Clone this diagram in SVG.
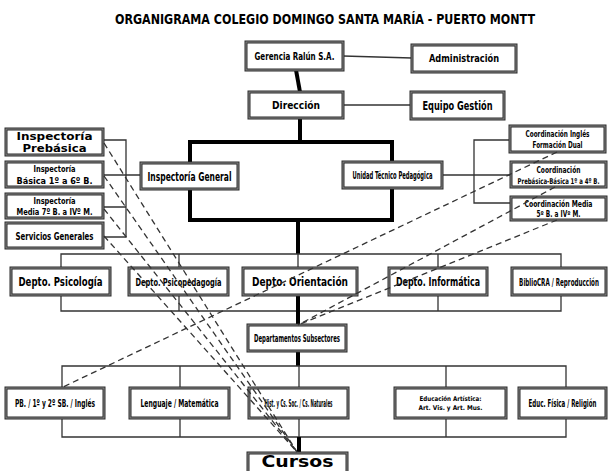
<svg xmlns="http://www.w3.org/2000/svg" width="613" height="471" viewBox="0 0 613 471">
<style>
.b{fill:#fff;stroke:#2a2a2a;stroke-width:3}
.bi{fill:none;stroke:#8a8a8a;stroke-width:1}
.t{font-family:"DejaVu Sans Condensed","DejaVu Sans","Liberation Sans",sans-serif;font-weight:bold;fill:#000;text-anchor:middle}
.w{font-family:"DejaVu Sans","Liberation Sans",sans-serif;font-weight:bold;fill:#000;text-anchor:middle}
.thin{fill:none;stroke:#333;stroke-width:1.3}
.thick{fill:none;stroke:#000;stroke-width:4}
.dash{fill:none;stroke:#333;stroke-width:1.3;stroke-dasharray:6 4}
</style>
<rect width="613" height="471" fill="#fff"/>
<text x="325" y="24" class="t" font-size="14" textLength="420" lengthAdjust="spacingAndGlyphs">ORGANIGRAMA COLEGIO DOMINGO SANTA MARÍA - PUERTO MONTT</text>

<g id="connectors">
<path class="thin" d="M343,56 L412,58"/>
<path class="thin" d="M343,105 H411"/>
<path class="thick" d="M296,70 L300,92"/>
<path class="thick" d="M300,118 V142 M190,142 H392 V220 H190 Z M298,220 V254"/>
<path class="thin" d="M442,175 H511 M511,140 H474 V203 H511"/>
<path class="thin" d="M103,140 H126 V237 H103 M103,175 H141 M103,207 H126"/>
<path class="thin" d="M61,268 V254 H561 V268 M179,254 V268 M438,254 V268 M298,254 V268"/>
<path class="thin" d="M61,295 V311 H561 V295 M179,295 V311 M438,295 V311"/>
<path class="thick" d="M298,295 V325 M298,351 V366"/>
<path class="thin" d="M62,388 V366 H566 V388 M180,366 V388 M299,366 V388 M446,366 V388"/>
<path class="thin" d="M62,418 V437 H566 V418 M180,418 V437 M299,418 V437 M446,418 V437"/>
<path class="thick" d="M299,437 V453"/>
</g>

<g id="n-gerencia"><rect class="b" x="246" y="42" width="97" height="28"/><rect class="bi" x="246" y="42" width="97" height="28"/><text class="t" x="294.5" y="60" font-size="11" textLength="80" lengthAdjust="spacingAndGlyphs">Gerencia Ralún S.A.</text></g>
<g id="n-administracion"><rect class="b" x="412" y="45" width="104" height="27"/><rect class="bi" x="412" y="45" width="104" height="27"/><text class="t" x="464" y="62" font-size="11" textLength="70" lengthAdjust="spacingAndGlyphs">Administración</text></g>
<g id="n-direccion"><rect class="b" x="249" y="92" width="94" height="26"/><rect class="bi" x="249" y="92" width="94" height="26"/><text class="t" x="296" y="109" font-size="11" textLength="48" lengthAdjust="spacingAndGlyphs">Dirección</text></g>
<g id="n-equipo"><rect class="b" x="411" y="92" width="93" height="27"/><rect class="bi" x="411" y="92" width="93" height="27"/><text class="t" x="457.5" y="110" font-size="12" textLength="70" lengthAdjust="spacingAndGlyphs">Equipo Gestión</text></g>
<g id="n-insp-general"><rect class="b" x="141" y="163" width="97" height="26"/><rect class="bi" x="141" y="163" width="97" height="26"/><text class="t" x="189.5" y="181" font-size="12" textLength="84" lengthAdjust="spacingAndGlyphs">Inspectoría General</text></g>
<g id="n-utp"><rect class="b" x="343" y="162" width="99" height="26"/><rect class="bi" x="343" y="162" width="99" height="26"/><text class="t" x="392.5" y="179" font-size="10" textLength="80" lengthAdjust="spacingAndGlyphs">Unidad Técnico Pedagógica</text></g>
<g id="n-coord-ingles"><rect class="b" x="510" y="126" width="95" height="26"/><rect class="bi" x="510" y="126" width="95" height="26"/><text class="t" x="557.5" y="137" font-size="8" textLength="64" lengthAdjust="spacingAndGlyphs">Coordinación Inglés</text><text class="t" x="557.5" y="148" font-size="8" textLength="50" lengthAdjust="spacingAndGlyphs">Formación Dual</text></g>
<g id="n-coord-prebasica"><rect class="b" x="511" y="162" width="95" height="25"/><rect class="bi" x="511" y="162" width="95" height="25"/><text class="t" x="558.5" y="173" font-size="8" textLength="44" lengthAdjust="spacingAndGlyphs">Coordinación</text><text class="t" transform="translate(558.5,184) scale(0.7,1)" font-size="8" textLength="117" lengthAdjust="spacingAndGlyphs">Prebásica-Básica 1º a 4º B.</text></g>
<g id="n-coord-media"><rect class="b" x="511" y="197" width="95" height="23"/><rect class="bi" x="511" y="197" width="95" height="23"/><text class="t" x="558.5" y="207" font-size="8" textLength="68" lengthAdjust="spacingAndGlyphs">Coordinación Media</text><text class="t" x="558.5" y="217" font-size="8" textLength="44" lengthAdjust="spacingAndGlyphs">5º B. a IVº M.</text></g>
<g id="n-insp-prebasica"><rect class="b" x="6" y="129" width="97" height="26"/><rect class="bi" x="6" y="129" width="97" height="26"/><text class="w" x="54.5" y="140" font-size="10.5" textLength="76" lengthAdjust="spacingAndGlyphs">Inspectoría</text><text class="w" x="54.5" y="152" font-size="10.5" textLength="64" lengthAdjust="spacingAndGlyphs">Prebásica</text></g>
<g id="n-insp-basica"><rect class="b" x="6" y="162" width="97" height="25"/><rect class="bi" x="6" y="162" width="97" height="25"/><text class="t" x="54.5" y="172" font-size="8" textLength="42" lengthAdjust="spacingAndGlyphs">Inspectoría</text><text class="t" x="54.5" y="184" font-size="9" textLength="76" lengthAdjust="spacingAndGlyphs">Básica 1º a 6º B.</text></g>
<g id="n-insp-media"><rect class="b" x="6" y="194" width="97" height="24"/><rect class="bi" x="6" y="194" width="97" height="24"/><text class="t" x="54.5" y="204" font-size="8" textLength="42" lengthAdjust="spacingAndGlyphs">Inspectoría</text><text class="t" x="54.5" y="215" font-size="8.5" textLength="76" lengthAdjust="spacingAndGlyphs">Media 7º B. a IVº M.</text></g>
<g id="n-servicios"><rect class="b" x="6" y="223" width="97" height="25"/><rect class="bi" x="6" y="223" width="97" height="25"/><text class="t" x="54.5" y="240" font-size="11" textLength="78" lengthAdjust="spacingAndGlyphs">Servicios Generales</text></g>
<g id="n-psicologia"><rect class="b" x="11" y="268" width="99" height="27"/><rect class="bi" x="11" y="268" width="99" height="27"/><text class="t" x="60.5" y="286" font-size="12" textLength="84" lengthAdjust="spacingAndGlyphs">Depto. Psicología</text></g>
<g id="n-psicopedagogia"><rect class="b" x="129" y="268" width="99" height="27"/><rect class="bi" x="129" y="268" width="99" height="27"/><text class="t" x="178.5" y="286" font-size="11" textLength="86" lengthAdjust="spacingAndGlyphs">Depto. Psicopedagogía</text></g>
<g id="n-orientacion"><rect class="b" x="243" y="268" width="114" height="27"/><rect class="bi" x="243" y="268" width="114" height="27"/><text class="t" x="300" y="286" font-size="12" textLength="96" lengthAdjust="spacingAndGlyphs">Depto. Orientación</text></g>
<g id="n-informatica"><rect class="b" x="389" y="268" width="98" height="27"/><rect class="bi" x="389" y="268" width="98" height="27"/><text class="t" x="438" y="286" font-size="12" textLength="84" lengthAdjust="spacingAndGlyphs">Depto. Informática</text></g>
<g id="n-biblio"><rect class="b" x="512" y="268" width="94" height="27"/><rect class="bi" x="512" y="268" width="94" height="27"/><text class="t" transform="translate(559,286) scale(0.6,1)" font-size="11" textLength="133" lengthAdjust="spacingAndGlyphs">BiblioCRA / Reproducción</text></g>
<g id="n-subsectores"><rect class="b" x="248" y="325" width="98" height="26"/><rect class="bi" x="248" y="325" width="98" height="26"/><text class="t" x="297" y="342" font-size="10" textLength="86" lengthAdjust="spacingAndGlyphs">Departamentos Subsectores</text></g>
<g id="n-pb"><rect class="b" x="6" y="388" width="98" height="30"/><rect class="bi" x="6" y="388" width="98" height="30"/><text class="t" x="55" y="407" font-size="10" textLength="80" lengthAdjust="spacingAndGlyphs">PB. / 1º y 2º SB. / Inglés</text></g>
<g id="n-lenguaje"><rect class="b" x="130" y="388" width="99" height="30"/><rect class="bi" x="130" y="388" width="99" height="30"/><text class="t" x="179.5" y="407" font-size="10" textLength="78" lengthAdjust="spacingAndGlyphs">Lenguaje / Matemática</text></g>
<g id="n-historia"><rect class="b" x="249" y="388" width="99" height="30"/><rect class="bi" x="249" y="388" width="99" height="30"/><text class="t" x="298.5" y="407" font-size="10" textLength="68" lengthAdjust="spacingAndGlyphs">Hist. y Cs. Soc. / Cs. Naturales</text></g>
<g id="n-artistica"><rect class="b" x="395" y="388" width="111" height="30"/><rect class="bi" x="395" y="388" width="111" height="30"/><text class="w" x="450.5" y="401" font-size="6.5" textLength="62" lengthAdjust="spacingAndGlyphs">Educación Artística:</text><text class="w" x="450.5" y="410" font-size="6.5" textLength="64" lengthAdjust="spacingAndGlyphs">Art. Vis. y Art. Mus.</text></g>
<g id="n-fisica"><rect class="b" x="519" y="388" width="87" height="30"/><rect class="bi" x="519" y="388" width="87" height="30"/><text class="t" transform="translate(562.5,407) scale(0.6,1)" font-size="10" textLength="113" lengthAdjust="spacingAndGlyphs">Educ. Física / Religión</text></g>
<g id="n-cursos"><rect class="b" x="248" y="453" width="99" height="34"/><rect class="bi" x="248" y="453" width="99" height="34"/><text class="w" x="297.5" y="467" font-size="15" font-weight="normal" textLength="72" lengthAdjust="spacingAndGlyphs">Cursos</text></g>

<g id="dashed-connectors">
<path class="dash" d="M104,143 L297,452"/>
<path class="dash" d="M104,176 L297,452"/>
<path class="dash" d="M104,209 L297,452"/>
<path class="dash" d="M104,236 L297,452"/>
<path class="dash" d="M557,152 L63,387"/>
<path class="dash" d="M555,187 L298,325"/>
<path class="dash" d="M557,220 L298,325"/>
</g>
</svg>
